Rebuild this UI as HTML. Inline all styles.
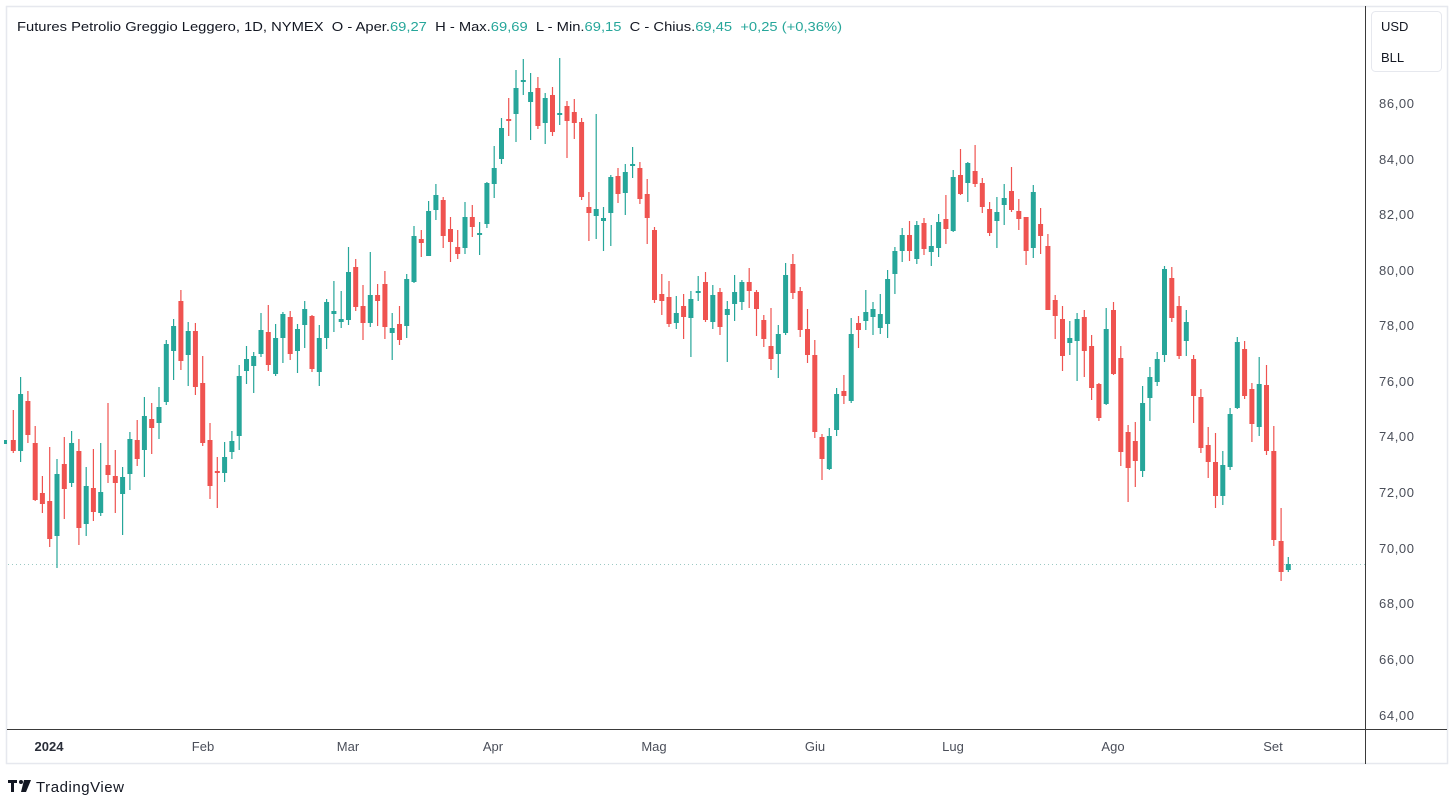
<!DOCTYPE html>
<html><head><meta charset="utf-8">
<style>
html,body{margin:0;padding:0;background:#fff;}
body{width:1453px;height:798px;overflow:hidden;position:relative;font-family:"Liberation Sans",sans-serif;}
svg{position:absolute;left:0;top:0;}
</style></head><body>
<svg id="c" width="1453" height="798" xmlns="http://www.w3.org/2000/svg">
<rect x="6.5" y="6.5" width="1441" height="757" fill="none" stroke="#e6e8ee" stroke-width="1.5"/>
<line x1="1365.5" y1="6" x2="1365.5" y2="764" stroke="#3a3a3a" stroke-width="1"/>
<line x1="7" y1="729.5" x2="1447" y2="729.5" stroke="#3a3a3a" stroke-width="1"/>
<line x1="8" y1="564.5" x2="1365" y2="564.5" stroke="#9cc9c4" stroke-width="1" stroke-dasharray="1,3"/>
<rect x="1371.5" y="11.5" width="70" height="60" rx="4" fill="#fff" stroke="#e6e8ee"/>
<text x="1381" y="31" font-size="13" fill="#131722">USD</text>
<text x="1381" y="62" font-size="13" fill="#131722">BLL</text>
<g font-size="13" fill="#4a4e59">
<text x="1379" y="108" textLength="35">86,00</text><text x="1379" y="164" textLength="35">84,00</text><text x="1379" y="219" textLength="35">82,00</text>
<text x="1379" y="275" textLength="35">80,00</text><text x="1379" y="330" textLength="35">78,00</text><text x="1379" y="386" textLength="35">76,00</text>
<text x="1379" y="441" textLength="35">74,00</text><text x="1379" y="497" textLength="35">72,00</text><text x="1379" y="553" textLength="35">70,00</text>
<text x="1379" y="608" textLength="35">68,00</text><text x="1379" y="664" textLength="35">66,00</text><text x="1379" y="720" textLength="35">64,00</text>
</g>
<g font-size="13" fill="#4a4e59" text-anchor="middle">
<text x="49" y="751" font-weight="bold" fill="#2a2e39">2024</text>
<text x="203" y="751">Feb</text><text x="348" y="751">Mar</text><text x="493" y="751">Apr</text>
<text x="654" y="751">Mag</text><text x="815" y="751">Giu</text><text x="953" y="751">Lug</text>
<text x="1113" y="751">Ago</text><text x="1273" y="751">Set</text>
</g>
<text x="17" y="31" font-size="13" fill="#131722" textLength="825" lengthAdjust="spacingAndGlyphs" xml:space="preserve">Futures Petrolio Greggio Leggero, 1D, NYMEX  O - Aper.<tspan fill="#26a69a">69,27</tspan>  H - Max.<tspan fill="#26a69a">69,69</tspan>  L - Min.<tspan fill="#26a69a">69,15</tspan>  C - Chius.<tspan fill="#26a69a">69,45  +0,25 (+0,36%)</tspan></text>
<g fill="#131722"><rect x="8" y="780" width="9" height="3"/><rect x="11" y="780" width="3" height="12"/><circle cx="21" cy="782" r="2"/><polygon points="24,780 31,780 26,792 21,792"/></g>
<text x="36" y="792" font-size="15" fill="#131722" textLength="88">TradingView</text>
<g id="k"></g>
</svg>
<script>
var d=[
[440,410,453,451],[451,377,462,394],[401,391,443,435],[443,426,501,500],[493,476,513,504],[501,447,547,539],[536,459,568,474],[464,437,519,489],[483,431,487,443],[451,439,545,528],
[524,467,536,486],[488,449,521,512],[513,443,516,492],[465,403,483,475],[476,450,513,483],[494,467,535,477],[474,432,490,439],[440,420,466,459],[450,397,477,416],[419,403,454,428],
[423,387,439,407],[402,340,405,344],[351,319,380,326],[301,290,370,361],[355,322,386,331],[331,323,395,387],[383,356,446,443],[440,423,499,486],[471,457,508,472],[473,442,482,457],
[452,431,459,441],[436,365,450,376],[371,346,384,359],[366,352,393,356],[354,313,357,330],[332,305,371,365],[374,324,376,338],[338,312,363,314],[317,311,360,354],[351,324,373,329],
[325,301,348,309],[316,315,372,369],[372,325,386,338],[338,299,349,302],[314,281,332,311],[322,291,328,319],[320,247,325,272],[267,259,311,307],[306,285,340,323],[323,252,327,295],
[295,284,326,301],[284,271,339,327],[333,313,360,328],[324,306,345,340],[326,274,338,279],[282,226,283,236],[239,230,257,243],[256,201,256,211],[210,184,220,195],[200,197,248,236],
[229,217,262,242],[247,230,259,254],[248,202,254,217],[217,205,237,227],[235,222,255,233],[224,182,228,183],[184,146,198,168],[159,118,164,128],[119,98,136,120],[114,70,142,88],
[81,59,95,80],[102,73,140,92],[88,77,129,126],[123,93,144,98],[95,87,136,132],[115,58,125,113],[106,101,158,121],[112,99,139,123],[122,118,200,197],[207,192,241,213],
[216,114,239,209],[221,207,251,218],[213,175,246,177],[176,168,203,194],[193,164,215,172],[166,147,178,164],[168,162,204,199],[194,179,244,218],[230,227,303,300],[294,274,315,301],
[297,281,327,324],[323,296,329,313],[306,294,339,317],[318,291,357,299],[292,276,301,291],[282,272,322,320],[322,285,329,295],[292,288,335,327],[315,301,362,309],[304,275,321,292],
[302,280,310,282],[282,268,308,291],[292,290,336,309],[320,315,347,339],[346,308,370,359],[354,325,378,334],[333,263,335,275],[264,254,299,293],[291,287,337,330],[329,309,363,355],
[355,340,438,432],[437,434,480,459],[469,428,470,436],[430,388,436,394],[391,375,404,396],[401,318,403,334],[323,316,348,330],[321,290,330,312],[317,302,335,309],[328,294,334,314],
[324,270,338,279],[274,247,294,251],[251,228,262,235],[235,221,261,251],[259,221,264,225],[223,218,255,249],[252,225,266,246],[248,214,257,222],[219,195,244,229],[231,170,232,177],
[175,149,195,194],[183,162,202,163],[171,145,187,184],[183,178,213,207],[209,202,236,233],[221,197,248,212],[205,184,225,198],[191,167,212,210],[211,199,230,219],[217,217,265,251],
[248,185,258,192],[224,208,254,236],[246,234,310,310],[300,295,339,316],[319,306,371,356],[343,321,355,338],[341,313,381,319],[317,310,377,351],[346,335,400,388],[384,383,421,418],
[404,308,405,329],[310,302,375,374],[358,346,466,452],[432,425,502,468],[441,422,487,461],[471,386,477,403],[398,367,421,377],[382,352,386,359],[355,266,362,269],[278,267,322,318],
[306,296,359,356],[341,310,356,322],[359,355,423,396],[397,389,453,448],[445,427,478,462],[462,433,508,496],[496,451,505,465],[467,408,470,414],[408,337,409,342],[349,341,399,396],
[389,383,442,424],[427,357,436,384],[385,365,455,451],[451,426,546,540],[541,508,581,572],[570,557,572,564]
];
var s='<rect x="4" y="440" width="3" height="4" fill="#26a69a"/>';
for(var i=0;i<d.length;i++){
 var x=13.3+7.286*i, o=d[i][0],h=d[i][1],l=d[i][2],c=d[i][3];
 var col=c>o?'#ef5350':'#26a69a';
 var t=Math.min(o,c),b=Math.max(o,c); if(b-t<2){b=t+2;}
 s+='<line x1="'+x.toFixed(1)+'" y1="'+h+'" x2="'+x.toFixed(1)+'" y2="'+l+'" stroke="'+col+'" stroke-width="1.2"/>';
 s+='<rect x="'+(x-2.5).toFixed(1)+'" y="'+t+'" width="5" height="'+(b-t)+'" fill="'+col+'"/>';
}
document.getElementById('k').innerHTML=s;
</script>
</body></html>
